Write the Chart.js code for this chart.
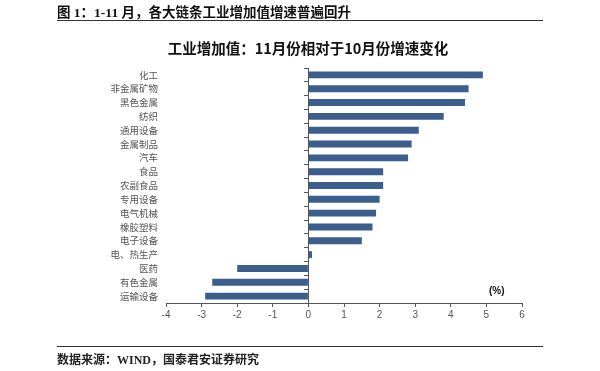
<!DOCTYPE html>
<html>
<head>
<meta charset="utf-8">
<script src="https://cdn.jsdelivr.net/npm/chart.js@4"></script>
<style>
  body { margin: 0; width: 600px; height: 371px; background: #fff; position: relative; overflow: hidden; }
  #wrap { position: absolute; left: 0; top: 0; width: 600px; height: 371px; }
  .txt { position: absolute; white-space: nowrap; }
  #head { left: 57px; top: 1px; font: bold 13.5px "Liberation Serif", "Noto Sans CJK SC"; color: #111; }
  #title { left: 0; width: 616px; text-align: center; top: 37px; font: bold 14.5px "Noto Sans CJK SC"; color: #111; }
  #unit { left: 489px; top: 285px; font: bold 10px "Liberation Sans", Arial; color: #111; }
  #foot { left: 57px; top: 350px; font: bold 12px "Liberation Serif", "Noto Sans CJK SC"; color: #222; }
  .rule { position: absolute; left: 57px; width: 486px; height: 1px; background: #333; }
</style>
</head>
<body>
<div id="wrap"><canvas id="chart" width="600" height="371"></canvas></div>
<div class="txt" id="head">图 1：1-11 月，各大链条工业增加值增速普遍回升</div>
<div class="rule" style="top:20px"></div>
<div class="txt" id="title">工业增加值：11月份相对于10月份增速变化</div>
<div class="txt" id="unit">(%)</div>
<div class="rule" style="top:346px"></div>
<div class="txt" id="foot">数据来源：WIND，国泰君安证券研究</div>
<script>
// categories top to bottom
const industries = [
  "化工", "非金属矿物", "黑色金属", "纺织", "通用设备", "金属制品", "汽车",
  "食品", "农副食品", "专用设备", "电气机械", "橡胶塑料", "电子设备",
  "电、热生产", "医药", "有色金属", "运输设备"
];
// change in growth rate, percentage points
const growthChange = [
  4.9, 4.5, 4.4, 3.8, 3.1, 2.9, 2.8,
  2.1, 2.1, 2.0, 1.9, 1.8, 1.5,
  0.1, -2.0, -2.7, -2.9
];
const xMin = -4;
const xMax = 6;

const ctx = document.getElementById("chart");

new Chart(ctx, {
  type: "bar",
  data: {
    labels: industries,
    datasets: [
      {
        data: growthChange,
        backgroundColor: "#3b5e8c",
        borderWidth: 0,
        categoryPercentage: 1,
        barPercentage: 0.5,
      },
    ],
  },
  options: {
    indexAxis: "y",
    responsive: false,
    animation: false,
    layout: { padding: { left: 0, right: 78, top: 68, bottom: 48 } },
    plugins: { legend: { display: false }, tooltip: { enabled: false } },
    scales: {
      x: {
        min: xMin,
        max: xMax,
        ticks: {
          stepSize: 1,
          color: "#555",
          padding: 2,
          font: { family: "Liberation Sans", size: 10 },
        },
        grid: { drawOnChartArea: false, tickLength: 4, color: "#555" },
        border: { color: "#555" },
        afterFit: (scale) => { scale.height = 20; },
      },
      y: {
        type: "category",
        ticks: {
          color: "#555",
          padding: 0,
          autoSkip: false,
          font: { family: "Noto Sans CJK SC", size: 9.5 },
        },
        grid: { display: false },
        border: { display: false },
        afterFit: (scale) => { scale.width = 166; },
      },
      // zero line with tick marks between categories
      y2: {
        type: "category",
        labels: industries,
        position: { x: 0 },
        offset: true,
        ticks: { display: false },
        grid: { offset: true, drawOnChartArea: false, tickLength: 4, color: "#555" },
        border: { color: "#555" },
      },
    },
  },
});
</script>
</body>
</html>
